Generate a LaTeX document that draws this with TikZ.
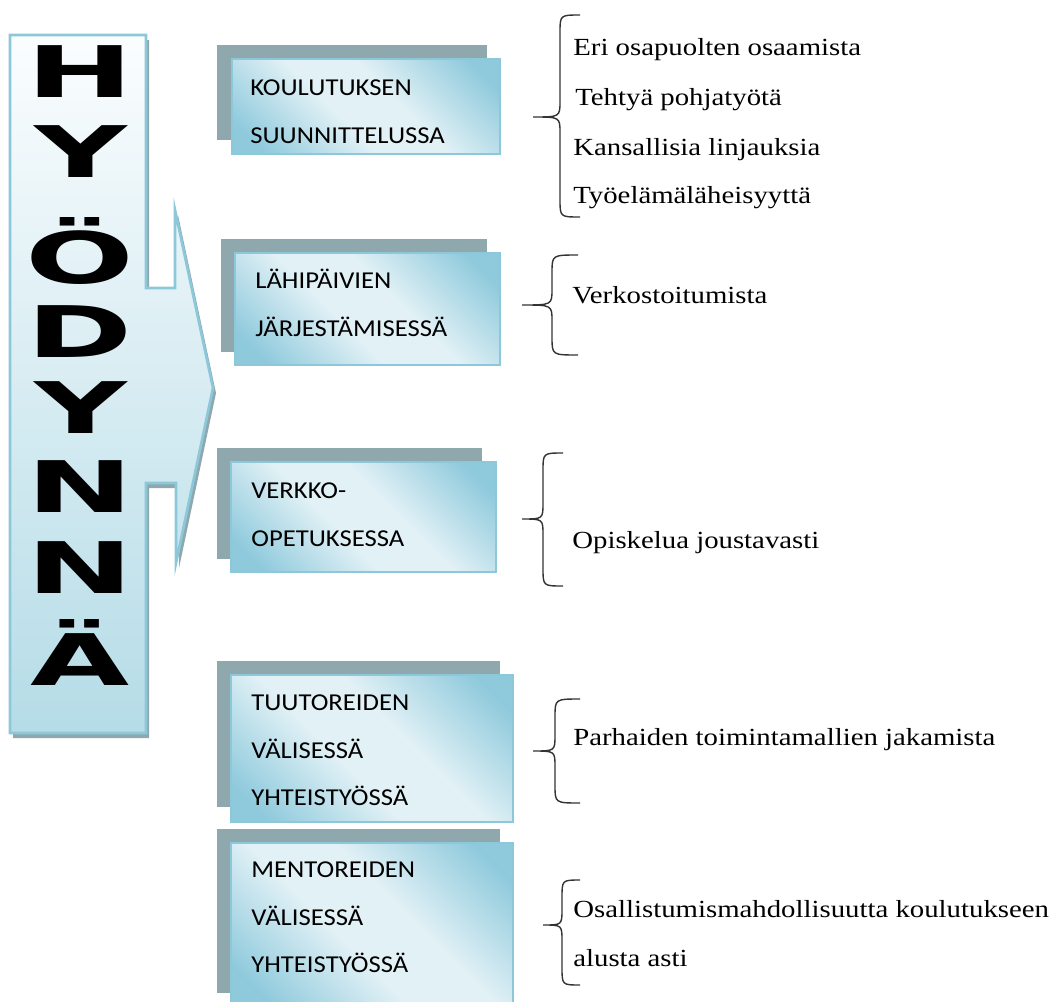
\documentclass[tikz,border=0pt]{standalone}
\usepackage{fontspec}
\setmainfont{Liberation Serif}[FakeStretch=1.17]
\newfontfamily\boxfont{Carlito}[FakeStretch=1.1]
\newfontfamily\bigfont{DejaVu Sans}[UprightFont=* Bold, FakeStretch=1.8]
\usetikzlibrary{calc}

\definecolor{arrowline}{HTML}{8CC8DA}
\definecolor{arrowtop}{HTML}{FBFDFE}
\definecolor{arrowbot}{HTML}{B5DCE7}
\definecolor{boxdark}{HTML}{8FCADC}
\definecolor{boxlight}{HTML}{E2F1F6}
\definecolor{boxback}{HTML}{8FA8AD}
\definecolor{bracecol}{HTML}{333333}

\pgfdeclareverticalshading{boxshade}{100bp}{color(0bp)=(boxdark); color(21bp)=(boxdark);
  color(43bp)=(boxlight); color(57bp)=(boxlight); color(79bp)=(boxdark); color(100bp)=(boxdark)}

\tikzset{
  backbox/.style={fill=boxback},
  frontbox/.style={draw=arrowline, line width=1.2pt, shading=boxshade, shading angle=-45},
  boxtext/.style={font=\boxfont\fontsize{13.8}{13.8}\selectfont, anchor=base west, inner sep=0pt},
  listtext/.style={font=\fontsize{14}{14}\selectfont, anchor=base west, inner sep=0pt},
  bigletter/.style={font=\bigfont\fontsize{40.5}{40.5}\selectfont, anchor=base, inner sep=0pt},
  brace/.style={draw=bracecol, line width=0.8pt},
}

% curly bracket: end x, stem x, tip x, top y, middle y, bottom y
\newcommand{\curly}[6]{%
  \draw[brace] (#1,#4) .. controls (#2,#4) .. (#2,#4+18) -- (#2,#5-16)
    .. controls (#2,#5) .. (#3,#5) .. controls (#2,#5) .. (#2,#5+16)
    -- (#2,#6-18) .. controls (#2,#6) .. (#1,#6);}

\begin{document}
\begin{tikzpicture}[x=0.02cm, y=-0.02cm]
    \useasboundingbox (0,0) rectangle (1051,1001);

    % Big arrow with shadow
    \fill[boxback, shift={(3,5)}] (10,35) -- (146,35) -- (146,288) -- (175,288) -- (175,210)
        -- (213,388) -- (176,563) -- (176,483) -- (146,483) -- (146,733) -- (10,733) -- cycle;
    \shade[top color=arrowtop, bottom color=arrowbot, draw=arrowline, line width=1.5pt]
        (10,35) -- (146,35) -- (146,288) -- (175,288) -- (175,210)
        -- (213,388) -- (176,563) -- (176,483) -- (146,483) -- (146,733) -- (10,733) -- cycle;

    % Letters
    \node[bigletter] (h) at (80,97) {H};
    \node[bigletter] (y1) at (81,177) {Y};
    \node[bigletter] (oe) at (80,283) {Ö};
    \node[bigletter] (d) at (80,357) {D};
    \node[bigletter] (y2) at (81,433) {Y};
    \node[bigletter] (n1) at (80,512) {N};
    \node[bigletter] (n2) at (80,593) {N};
    \node[bigletter] (ae) at (80,685) {Ä};

    % Boxes
    \fill[backbox] (217,45) rectangle (487,140);
    \shade[frontbox] (232,59) rectangle (500,154);
    \fill[backbox] (221,239) rectangle (487,352);
    \shade[frontbox] (235,253) rectangle (500,365);
    \fill[backbox] (217,448) rectangle (482,559);
    \shade[frontbox] (231,462) rectangle (496,572);
    \fill[backbox] (217,661) rectangle (500,807);
    \shade[frontbox] (231,675) rectangle (513,822);
    \fill[backbox] (217,829) rectangle (500,993);
    \shade[frontbox] (231,843) rectangle (513,1005);

    % Box texts
    \node[boxtext] (kou) at (250,95) {KOULUTUKSEN};
    \node[boxtext] (suu) at (250,143) {SUUNNITTELUSSA};
    \node[boxtext] (lah) at (255,288) {LÄHIPÄIVIEN};
    \node[boxtext] (jar) at (255,336) {JÄRJESTÄMISESSÄ};
    \node[boxtext] (ver) at (251,498) {VERKKO-};
    \node[boxtext] (ope) at (251,546) {OPETUKSESSA};
    \node[boxtext] (tuu) at (251,710) {TUUTOREIDEN};
    \node[boxtext] (val1) at (251,758) {VÄLISESSÄ};
    \node[boxtext] (yht1) at (251,805) {YHTEISTYÖSSÄ};
    \node[boxtext] (men) at (251,877) {MENTOREIDEN};
    \node[boxtext] (val2) at (251,925) {VÄLISESSÄ};
    \node[boxtext] (yht2) at (251,972) {YHTEISTYÖSSÄ};

    % Braces
    \curly{580}{560}{533}{15}{117}{217}
    \curly{578}{552}{522}{255}{305}{355}
    \curly{563}{543}{522}{453}{519}{586}
    \curly{580}{555}{533}{699}{751}{803}
    \curly{580}{562}{543}{880}{925}{985}

    % Lists
    \node[listtext] (eri) at (573,55) {Eri osapuolten osaamista};
    \node[listtext] (teh) at (575,105) {Tehtyä pohjatyötä};
    \node[listtext] (kan) at (573,155) {Kansallisia linjauksia};
    \node[listtext] (tyo) at (573,203) {Työelämäläheisyyttä};
    \node[listtext] (verk) at (572,303) {Verkostoitumista};
    \node[listtext] (opi) at (572,548) {Opiskelua joustavasti};
    \node[listtext] (par) at (573,745) {Parhaiden toimintamallien jakamista};
    \node[listtext] (osa) at (573,917) {Osallistumismahdollisuutta koulutukseen};
    \node[listtext] (alu) at (573,966) {alusta asti};
\end{tikzpicture}
\end{document}
